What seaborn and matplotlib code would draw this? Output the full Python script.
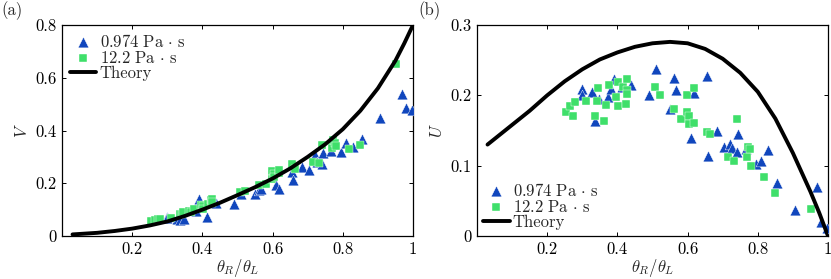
import numpy as np
import pandas as pd
import matplotlib
matplotlib.use("Agg")
import matplotlib.pyplot as plt
import seaborn as sns

# ---------------- data ----------------
x_blue = [0.300, 0.300, 0.327, 0.337, 0.349, 0.374, 0.381, 0.391, 0.414, 0.439,
          0.491, 0.511, 0.550, 0.562, 0.567, 0.611, 0.619, 0.656, 0.658, 0.683,
          0.705, 0.722, 0.726, 0.741, 0.745, 0.766, 0.796, 0.809, 0.830, 0.856,
          0.907, 0.968, 0.980, 0.997]
V_blue = [0.071, 0.068, 0.065, 0.062, 0.063, 0.100, 0.095, 0.139, 0.073, 0.126,
          0.121, 0.158, 0.158, 0.174, 0.180, 0.193, 0.178, 0.244, 0.212, 0.260,
          0.250, 0.307, 0.280, 0.273, 0.316, 0.323, 0.320, 0.354, 0.339, 0.368,
          0.446, 0.537, 0.484, 0.478]
U_blue = [0.209, 0.201, 0.205, 0.164, 0.195, 0.197, 0.209, 0.223, 0.212, 0.214,
          0.200, 0.237, 0.181, 0.225, 0.207, 0.140, 0.204, 0.227, 0.114, 0.150,
          0.127, 0.131, 0.125, 0.119, 0.145, 0.123, 0.103, 0.107, 0.122, 0.076,
          0.037, 0.070, 0.020, 0.011]

x_green = [0.253, 0.265, 0.274, 0.279, 0.311, 0.336, 0.341, 0.344, 0.362, 0.368,
           0.377, 0.396, 0.401, 0.401, 0.417, 0.424, 0.427, 0.427, 0.428, 0.508,
           0.520, 0.561, 0.581, 0.598, 0.599, 0.604, 0.604, 0.619, 0.619, 0.656,
           0.665, 0.716, 0.732, 0.741, 0.769, 0.773, 0.778, 0.781, 0.819, 0.849,
           0.952]
V_green = [0.057, 0.060, 0.063, 0.066, 0.070, 0.082, 0.085, 0.092, 0.096, 0.090,
           0.101, 0.118, 0.112, 0.101, 0.120, 0.136, 0.140, 0.125, 0.130, 0.168,
           0.171, 0.193, 0.196, 0.248, 0.215, 0.235, 0.225, 0.240, 0.250, 0.273,
           0.254, 0.282, 0.278, 0.345, 0.333, 0.364, 0.351, 0.340, 0.329, 0.345,
           0.652]
U_green = [0.176, 0.185, 0.171, 0.191, 0.192, 0.170, 0.192, 0.211, 0.164, 0.186,
           0.214, 0.197, 0.219, 0.185, 0.212, 0.188, 0.223, 0.208, 0.202, 0.212,
           0.200, 0.180, 0.166, 0.200, 0.176, 0.170, 0.159, 0.210, 0.161, 0.148,
           0.145, 0.113, 0.106, 0.166, 0.112, 0.127, 0.124, 0.100, 0.084, 0.061,
           0.039]

x_theory_V = [0.03, 0.10, 0.15, 0.20, 0.25, 0.30, 0.35, 0.40, 0.45, 0.50, 0.55,
              0.60, 0.65, 0.70, 0.75, 0.80, 0.85, 0.90, 0.95, 0.975, 1.00]
V_theory = [0.006, 0.012, 0.019, 0.028, 0.040, 0.055, 0.076, 0.100, 0.126, 0.155,
            0.185, 0.218, 0.256, 0.300, 0.348, 0.405, 0.475, 0.560, 0.665, 0.730,
            0.800]

x_theory_U = [0.03, 0.10, 0.15, 0.20, 0.25, 0.30, 0.35, 0.40, 0.45, 0.50, 0.55,
              0.60, 0.65, 0.70, 0.75, 0.80, 0.85, 0.90, 0.95, 0.975, 1.00]
U_theory = [0.130, 0.158, 0.178, 0.200, 0.220, 0.237, 0.251, 0.261, 0.269, 0.274,
            0.276, 0.274, 0.266, 0.252, 0.232, 0.205, 0.167, 0.118, 0.063, 0.033,
            0.000]

label_blue = r"$0.974\ \mathrm{Pa}\,\cdot\,\mathrm{s}$"
label_green = r"$12.2\ \mathrm{Pa}\,\cdot\,\mathrm{s}$"
label_theory = "Theory"

xticks = [0.2, 0.4, 0.6, 0.8, 1.0]
xticklabels = ["0.2", "0.4", "0.6", "0.8", "1"]
yticks_V = [0, 0.2, 0.4, 0.6, 0.8]
yticklabels_V = ["0", "0.2", "0.4", "0.6", "0.8"]
yticks_U = [0, 0.1, 0.2, 0.3]
yticklabels_U = ["0", "0.1", "0.2", "0.3"]

# ---------------- style ----------------
sns.set_theme(style="ticks")
plt.rcParams["font.family"] = ["cmr10", "DejaVu Serif"]
plt.rcParams["mathtext.fontset"] = "cm"
plt.rcParams["axes.formatter.use_mathtext"] = True
plt.rcParams["xtick.direction"] = "in"
plt.rcParams["ytick.direction"] = "in"
plt.rcParams["xtick.top"] = True
plt.rcParams["ytick.right"] = True

BLUE = "#1046bd"
GREEN = "#3fdf6a"
FS = 12

df_blue = pd.DataFrame({"x": x_blue, "V": V_blue, "U": U_blue})
df_green = pd.DataFrame({"x": x_green, "V": V_green, "U": U_green})
df_tv = pd.DataFrame({"x": x_theory_V, "V": V_theory})
df_tu = pd.DataFrame({"x": x_theory_U, "U": U_theory})

fig = plt.figure(figsize=(8.31, 2.79), dpi=100)
ax1 = fig.add_axes([62 / 831, 43 / 279, 351 / 831, 211 / 279])
ax2 = fig.add_axes([477 / 831, 43 / 279, 351 / 831, 211 / 279])


def draw(ax, col, df_t, yticks, ylabels, ymax, ylab):
    sns.scatterplot(data=df_blue, x="x", y=col, ax=ax, marker="^", s=60,
                    color=BLUE, edgecolor="white", linewidth=0.3,
                    label=label_blue, zorder=3)
    sns.scatterplot(data=df_green, x="x", y=col, ax=ax, marker="s", s=34,
                    color=GREEN, edgecolor="white", linewidth=0.3,
                    label=label_green, zorder=3)
    sns.lineplot(data=df_t, x="x", y=col, ax=ax, color="black", linewidth=2.8,
                 label=label_theory, zorder=4)
    ax.set_xlim(0, 1)
    ax.set_ylim(0, ymax)
    ax.set_xticks(xticks)
    ax.set_xticklabels(xticklabels)
    ax.set_yticks(yticks)
    ax.set_yticklabels(ylabels)
    ax.tick_params(axis="both", which="both", length=3, width=0.7,
                   labelsize=FS, pad=4, colors="black")
    for sp in ax.spines.values():
        sp.set_linewidth(0.9)
        sp.set_color("black")
    ax.set_xlabel(r"$\theta_R/\theta_L$", fontsize=FS, labelpad=0)
    ax.set_ylabel(ylab, fontsize=FS, labelpad=4)


draw(ax1, "V", df_tv, yticks_V, yticklabels_V, 0.8, r"$V$")
draw(ax2, "U", df_tu, yticks_U, yticklabels_U, 0.3, r"$U$")

ax1.legend(loc="upper left", bbox_to_anchor=(0.0, 1.0), frameon=False,
           fontsize=FS, handlelength=1.6, handletextpad=0.2,
           labelspacing=0.0, borderpad=0.25, borderaxespad=0.2)
ax2.legend(loc="lower left", bbox_to_anchor=(0.0, 0.0), frameon=False,
           fontsize=FS, handlelength=1.6, handletextpad=0.2,
           labelspacing=0.0, borderpad=0.25, borderaxespad=0.1)

fig.text(1 / 831, 1 - 11 / 279, "(a)", fontsize=FS, va="center", ha="left")
fig.text(418 / 831, 1 - 11 / 279, "(b)", fontsize=FS, va="center", ha="left")

fig.savefig("out.png", dpi=100)
